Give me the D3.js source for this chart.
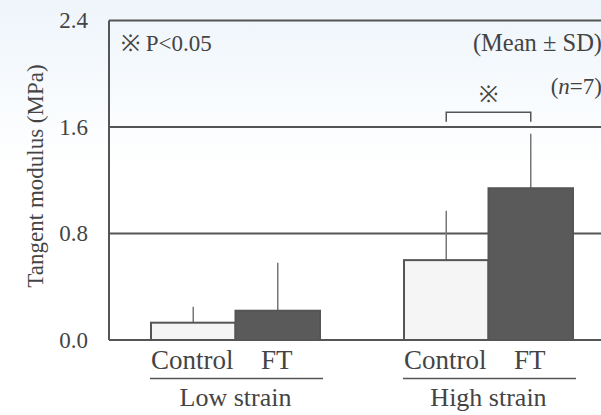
<!DOCTYPE html>
<html>
<head>
<meta charset="utf-8">
<script src="https://cdn.jsdelivr.net/npm/d3@7"></script>
<style>
  body { margin: 0; background: #fff; }
  svg text { font-family: "Liberation Serif", "Times New Roman", serif; }
</style>
</head>
<body>
<script>
// data
const groups = ["Low strain", "High strain"];
const treatments = ["Control", "FT"];
const means = [[0.13, 0.22], [0.60, 1.14]];
const sds = [[0.12, 0.36], [0.37, 0.41]];
const yTicks = [0.0, 0.8, 1.6, 2.4];

const width = 601;
const height = 415;
const margin = { top: 20.5, bottom: 75, left: 109 };
const colors = ["#f5f5f5", "#5a5a5a"];
const lineColor = "#555";

const svg = d3.select("body")
  .append("svg")
  .attr("width", width)
  .attr("height", height)
  .attr("font-family", "Liberation Serif, serif");

// faint blue background wash
const grad = svg.append("defs").append("linearGradient")
  .attr("id", "bg").attr("x1", 0).attr("y1", 0).attr("x2", 0).attr("y2", 1);
grad.append("stop").attr("offset", "0%").attr("stop-color", "#eef5fb");
grad.append("stop").attr("offset", "40%").attr("stop-color", "#ffffff");
svg.append("rect").attr("width", width).attr("height", height).attr("fill", "url(#bg)");

const x0 = d3.scaleBand()
  .domain(groups)
  .range([margin.left, 615])
  .paddingInner(0.332)
  .paddingOuter(0.166);

const x1 = d3.scaleBand()
  .domain(treatments)
  .range([0, x0.bandwidth()]);

const y = d3.scaleLinear()
  .domain([0, 2.4])
  .range([height - margin.bottom, margin.top]);

// gridlines (including frame top)
svg.selectAll(".grid")
  .data(yTicks.slice(1))
  .enter()
  .append("line")
  .attr("x1", margin.left)
  .attr("x2", width + 5)
  .attr("y1", (d) => y(d))
  .attr("y2", (d) => y(d))
  .attr("stroke", lineColor)
  .attr("stroke-width", 2);

// y tick labels
svg.selectAll(".tick-label")
  .data(yTicks)
  .enter()
  .append("text")
  .attr("x", 88)
  .attr("y", (d) => y(d) + 7.5)
  .attr("text-anchor", "end")
  .attr("font-size", 23)
  .attr("fill", "#444")
  .text((d) => d.toFixed(1));

// axis title
svg.append("text")
  .attr("transform", "translate(43," + 176 + ") rotate(-90)")
  .attr("text-anchor", "middle")
  .attr("font-size", 23)
  .attr("fill", "#444")
  .text("Tangent modulus (MPa)");

// bars
const g = svg.selectAll(".group")
  .data(groups)
  .enter()
  .append("g")
  .attr("transform", (d) => "translate(" + x0(d) + ",0)");

g.selectAll("line.err")
  .data((d, i) => treatments.map((t, j) => ({ t: t, m: means[i][j], sd: sds[i][j] })))
  .enter()
  .append("line")
  .attr("x1", (d) => x1(d.t) + x1.bandwidth() / 2)
  .attr("x2", (d) => x1(d.t) + x1.bandwidth() / 2)
  .attr("y1", (d) => y(d.m))
  .attr("y2", (d) => y(d.m + d.sd))
  .attr("stroke", "#777")
  .attr("stroke-width", 1.5);

g.selectAll("rect")
  .data((d, i) => treatments.map((t, j) => ({ t: t, m: means[i][j], c: colors[j] })))
  .enter()
  .append("rect")
  .attr("x", (d) => x1(d.t))
  .attr("y", (d) => y(d.m))
  .attr("width", x1.bandwidth())
  .attr("height", (d) => y(0) - y(d.m))
  .attr("fill", (d) => d.c)
  .attr("stroke", lineColor)
  .attr("stroke-width", 2);

// left axis and baseline
svg.append("line")
  .attr("x1", margin.left).attr("x2", margin.left)
  .attr("y1", y(2.4)).attr("y2", y(0))
  .attr("stroke", lineColor).attr("stroke-width", 2);
svg.append("line")
  .attr("x1", margin.left).attr("x2", width + 5)
  .attr("y1", y(0)).attr("y2", y(0))
  .attr("stroke", lineColor).attr("stroke-width", 2);

// category labels
g.selectAll("text.cat")
  .data(treatments)
  .enter()
  .append("text")
  .attr("x", (d) => x1(d) + x1.bandwidth() / 2 - 1)
  .attr("y", 369)
  .attr("text-anchor", "middle")
  .attr("font-size", 27)
  .attr("fill", "#444")
  .text((d) => d);

g.append("line")
  .attr("x1", -1)
  .attr("x2", x0.bandwidth() + 3)
  .attr("y1", 378.5)
  .attr("y2", 378.5)
  .attr("stroke", lineColor)
  .attr("stroke-width", 1.5);

g.append("text")
  .attr("x", x0.bandwidth() / 2)
  .attr("y", 406)
  .attr("text-anchor", "middle")
  .attr("font-size", 26)
  .attr("fill", "#444")
  .text((d) => d);

// significance bracket
const hi = "High strain";
const bx1 = x0(hi) + x1("Control") + x1.bandwidth() / 2;
const bx2 = x0(hi) + x1("FT") + x1.bandwidth() / 2;
svg.append("path")
  .attr("d", "M" + bx1 + "," + y(1.64) + "V" + y(1.71) + "H" + bx2 + "V" + y(1.64))
  .attr("fill", "none")
  .attr("stroke", lineColor)
  .attr("stroke-width", 1.5);
svg.append("text")
  .attr("x", (bx1 + bx2) / 2)
  .attr("y", 102)
  .attr("text-anchor", "middle")
  .attr("font-size", 23)
  .attr("fill", "#444")
  .text("※");

// annotations
svg.append("text")
  .attr("x", 121).attr("y", 51)
  .attr("font-size", 23).attr("fill", "#444")
  .text("※ P<0.05");

svg.append("text")
  .attr("x", 602).attr("y", 51)
  .attr("text-anchor", "end")
  .attr("font-size", 24.5).attr("fill", "#444")
  .text("(Mean ± SD)");

const nText = svg.append("text")
  .attr("x", 602).attr("y", 94)
  .attr("text-anchor", "end")
  .attr("font-size", 23).attr("fill", "#444");
nText.append("tspan").text("(");
nText.append("tspan").attr("font-style", "italic").text("n");
nText.append("tspan").text("=7)");
</script>
</body>
</html>
